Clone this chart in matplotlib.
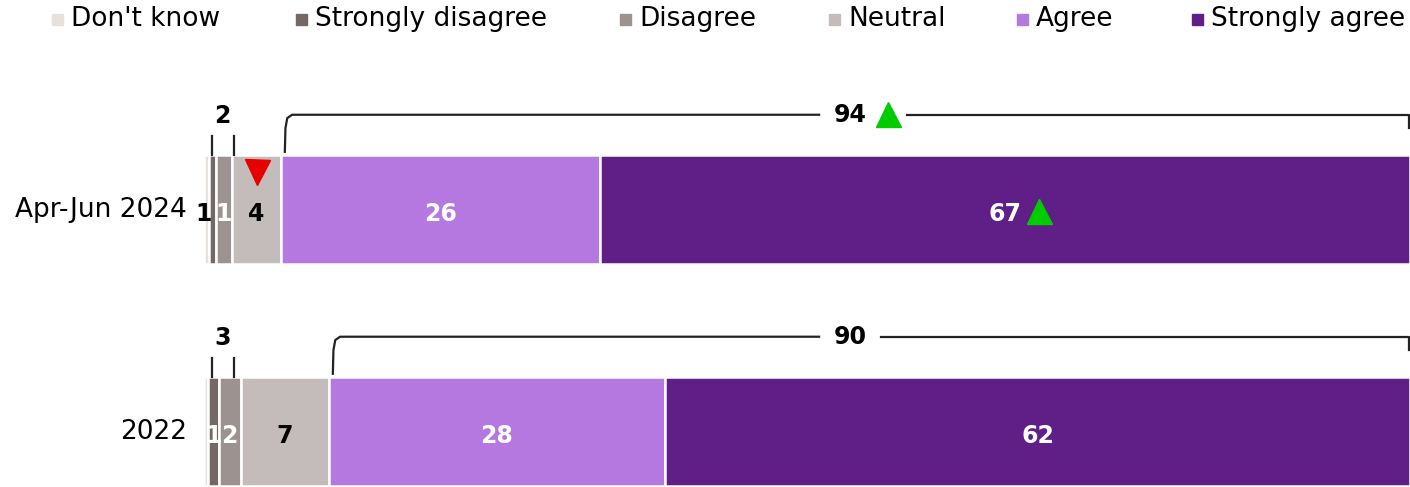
#!/usr/bin/env python3
"""stacked agreement bars, two survey waves, with net brackets and change arrows."""

import matplotlib.pyplot as plt
from matplotlib.patches import Rectangle

CATEGORIES = ["Don't know", "Strongly disagree", "Disagree", "Neutral", "Agree", "Strongly agree"]
COLORS = ["#e6e1dc", "#736866", "#9c9290", "#c4bbbb", "#b577e0", "#5f1f87"]
TEXT_COLORS = ["black", "white", "white", "black", "white", "white"]

WAVES = ["Apr-Jun 2024", "2022"]
DONT_KNOW = [0.40, 0.33]
STRONGLY_DISAGREE = [0.55, 0.90]
DISAGREE = [1.40, 1.80]
NEUTRAL = [4.00, 7.30]
AGREE = [26.45, 27.9]
STRONGLY_AGREE = [67.2, 61.8]

# significance flags per segment: +1 up, -1 down, 0 none
NEUTRAL_SIG = [-1, 0]
SA_SIG = [1, 0]
NET_AGREE_SIG = [1, 0]

SERIES = [DONT_KNOW, STRONGLY_DISAGREE, DISAGREE, NEUTRAL, AGREE, STRONGLY_AGREE]

FONT = "DejaVu Sans"
BAR_H = 0.49


def pct(v):
    # half-up rounding for the printed figures
    return int(v + 0.5)


fig = plt.figure(figsize=(14.1, 4.87), dpi=100)
ax = fig.add_axes([0, 0, 1, 1])
ax.set_xlim(-16.92, 100)
ax.set_ylim(1.25, -0.944)
ax.axis("off")

for row, wave in enumerate(WAVES):
    left = 0.0
    for k, vals in enumerate(SERIES):
        v = vals[row]
        ax.barh(row, v, left=left, height=BAR_H, color=COLORS[k],
                edgecolor="white", linewidth=1.8)
        left += v
    ax.text(-1.4, row, wave, ha="right", va="center", fontsize=19, family=FONT)

    # segment labels (don't know is left unlabelled)
    starts = [sum(s[row] for s in SERIES[:k]) for k in range(len(SERIES))]
    for k in range(1, len(SERIES)):
        v = SERIES[k][row]
        x = starts[k] + v / 2
        color = TEXT_COLORS[k]
        if v < 0.7:
            # too thin for text inside, push the label to the bar edge
            x = 0.0
            color = "black"
        ax.text(x, row + 0.02, f"{pct(v)}", ha="center", va="center",
                fontsize=17, fontweight="bold", color=color, family=FONT)

    # change markers
    if NEUTRAL_SIG[row]:
        xn = starts[3] + NEUTRAL[row] / 2
        ax.plot(xn, row - 0.17, marker="v" if NEUTRAL_SIG[row] < 0 else "^",
                color="#e60000" if NEUTRAL_SIG[row] < 0 else "#00cc00",
                markersize=18, linestyle="none", zorder=5)
    if SA_SIG[row]:
        xs = starts[5] + STRONGLY_AGREE[row] / 2 + 2.8
        ax.plot(xs, row + 0.005, marker="^", color="#00cc00", markersize=18,
                linestyle="none", zorder=5)

    # net disagree bracket (two ticks) and figure
    net_dis = STRONGLY_DISAGREE[row] + DISAGREE[row]
    tick_top = row - BAR_H / 2 - 0.085
    for xt in (0.64, 2.49):
        ax.plot([xt, xt], [tick_top, row - BAR_H / 2], color="#222222", lw=1.6)
    ax.text(1.55, row - 0.42, f"{pct(net_dis)}", ha="center", va="center",
            fontsize=17, fontweight="bold", family=FONT)

    # net agree bracket
    net_agr = AGREE[row] + STRONGLY_AGREE[row]
    x0 = starts[4] + 0.35
    top = row - 0.427
    bot = row - BAR_H / 2 - 0.015
    ax.plot([x0, x0 + 0.05, x0 + 0.2, x0 + 0.6, 51.0],
            [bot, top + 0.06, top + 0.015, top, top], color="#222222", lw=1.6)
    label_x = 53.6
    gap_end = 58.3 if NET_AGREE_SIG[row] else 56.1
    ax.plot([gap_end, 99.9, 99.9], [top, top, top + 0.06], color="#222222", lw=1.6)
    ax.text(label_x, top, f"{pct(net_agr)}", ha="center", va="center",
            fontsize=17, fontweight="bold", family=FONT)
    if NET_AGREE_SIG[row]:
        ax.plot(56.7, top - 0.005, marker="^", color="#00cc00", markersize=18,
                linestyle="none", zorder=5)

# legend across the top
LEG_X = [52, 296, 620, 829, 1017, 1192]
W, H = 1410, 487
for lx, cat, col in zip(LEG_X, CATEGORIES, COLORS):
    fig.patches.append(Rectangle((lx / W, 1 - 25 / H), 11 / W, 11 / H,
                                 transform=fig.transFigure, color=col))
    fig.text((lx + 19) / W, 1 - 19 / H, cat, ha="left", va="center",
             fontsize=19, family=FONT)

fig.savefig("out.png", dpi=100)
